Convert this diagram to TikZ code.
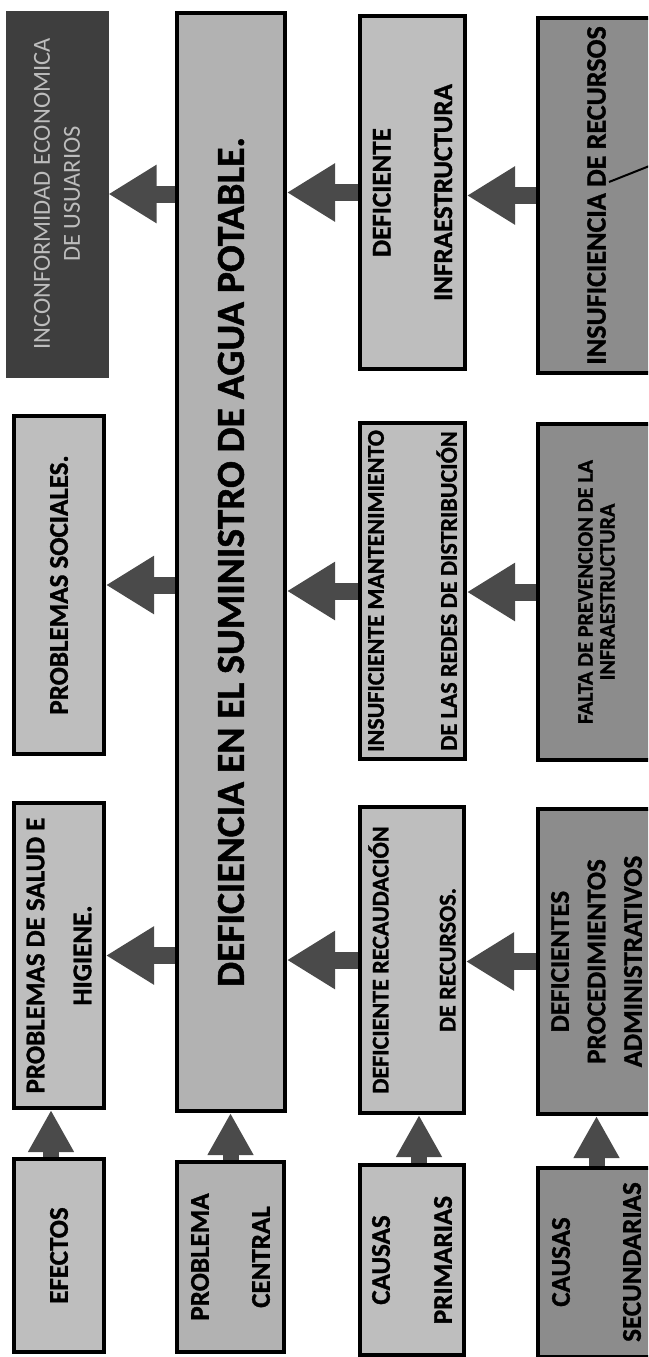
\documentclass[tikz,border=0pt]{standalone}
\usepackage{fontspec}
\setmainfont{Carlito}[BoldFeatures={FakeBold=1.2}]
\usetikzlibrary{arrows.meta}
\definecolor{lightbox}{HTML}{BEBEBE}
\definecolor{midbox}{HTML}{B2B2B2}
\definecolor{secbox}{HTML}{8C8C8C}
\definecolor{darkbox}{HTML}{3E3E3E}
\definecolor{darktext}{HTML}{BDBDBD}
\definecolor{arrowgray}{HTML}{4A4A4A}
\begin{document}
\begin{tikzpicture}[x=1pt,y=-1pt,
  box/.style={draw=black, line width=4pt, rotate=90, inner sep=0pt, align=center},
  sz/.style 2 args={minimum width=#1pt, minimum height=#2pt},
  fs/.style 2 args={font=\fontsize{#1}{#2}\selectfont\bfseries},
  fr/.style 2 args={font=\fontsize{#1}{#2}\selectfont},
  harrow/.style={draw=arrowgray, line width=17pt, -{Triangle[width=55pt,length=48pt]}},
  varrow/.style={draw=arrowgray, line width=16pt, -{Triangle[width=43pt,length=42pt]}},
  callout/.style={draw=black, line width=2pt}
]
\useasboundingbox (0,0) rectangle (648,1357);
\clip (0,0) rectangle (648,1357);
\fill[white] (0,0) rectangle (648,1357);

% Column 1: effects
\node[box, fill=darkbox, draw=darkbox, line width=1pt, text=darktext, sz={366}{102}, fr={24.5}{30}] (inc) at (57,194)
  {INCONFORMIDAD ECONOMICA\\DE USUARIOS};
\node[box, fill=lightbox, sz={338}{90}, fs={27}{32}] (soc) at (59,585) {PROBLEMAS SOCIALES.};
\node[box, fill=lightbox, sz={305}{90}, fs={27}{47}] (sal) at (59,955.5) {PROBLEMAS DE SALUD E\\HIGIENE.};
\node[box, fill=lightbox, sz={193}{90}, fs={27}{32}] (efe) at (59,1255.5) {EFECTOS};

% Column 2: central problem
\node[box, fill=midbox, sz={1098}{108}, fs={39.5}{46}] (big) at (231,562)
  {DEFICIENCIA EN EL SUMINISTRO DE AGUA POTABLE.};
\node[box, fill=midbox, sz={190}{107}, fs={27}{61}] (pc) at (230.5,1257) {PROBLEMA\\CENTRAL};

% Column 3: primary causes
\node[box, fill=lightbox, sz={353}{105}, fs={27}{61.5}] (infra) at (412.5,192.5) {DEFICIENTE\\INFRAESTRUCTURA};
\node[box, fill=lightbox, sz={336}{105}, fs={24}{73}] (mant) at (412.5,591)
  {INSUFICIENTE MANTENIMIENTO\\DE LAS REDES DE DISTRIBUCIÓN};
\node[box, fill=lightbox, sz={306}{104}, fs={24}{67}] (rec) at (412,960) {DEFICIENTE RECAUDACIÓN\\DE RECURSOS.};
\node[box, fill=lightbox, sz={190}{104}, fs={27}{62}] (cp) at (412,1260) {CAUSAS\\PRIMARIAS};

% Column 4: secondary causes
\node[box, fill=secbox, sz={355}{117}, fs={28}{32}] (insuf) at (596.5,195.5) {INSUFICIENCIA DE RECURSOS};
\node[box, fill=secbox, sz={336}{117}, fs={22}{22}] (falta) at (596.5,592) {FALTA DE PREVENCION DE LA\\INFRAESTRUCTURA};
\node[box, fill=secbox, sz={305}{117}, fs={27}{36.5}] (proc) at (596.5,961.5) {DEFICIENTES\\PROCEDIMIENTOS\\ADMINISTRATIVOS};
\node[box, fill=secbox, sz={189}{117}, fs={27}{71}] (cs) at (596.5,1262) {CAUSAS\\SECUNDARIAS};

% callout line
\coordinate (cl1) at (609,182);
\coordinate (cl2) at (662,161);
\draw[callout] (cl1) -- (cl2);

% horizontal arrows (causes -> problem -> effects)
\draw[harrow] (inc.south -| big.north) -- (inc.south);
\draw[harrow] (soc.south -| big.north) -- (soc.south);
\draw[harrow] (sal.south -| big.north) -- (sal.south);
\draw[harrow] (infra.north) -- (infra.north -| big.south);
\draw[harrow] (mant.north) -- (mant.north -| big.south);
\draw[harrow] (rec.north) -- (rec.north -| big.south);
\draw[harrow] (insuf.north) -- (insuf.north -| infra.south);
\draw[harrow] (falta.north) -- (falta.north -| mant.south);
\draw[harrow] (proc.north) -- (proc.north -| rec.south);

% vertical arrows from row labels
\draw[varrow] ([xshift=-8pt]efe.east) -- ([xshift=-8pt]efe.east |- sal.west);
\draw[varrow] (pc.east) -- (pc.east |- big.west);
\draw[varrow] ([xshift=7pt]cp.east) -- ([xshift=7pt]cp.east |- rec.west);
\draw[varrow] (cs.east) -- (cs.east |- proc.west);
\end{tikzpicture}
\end{document}
